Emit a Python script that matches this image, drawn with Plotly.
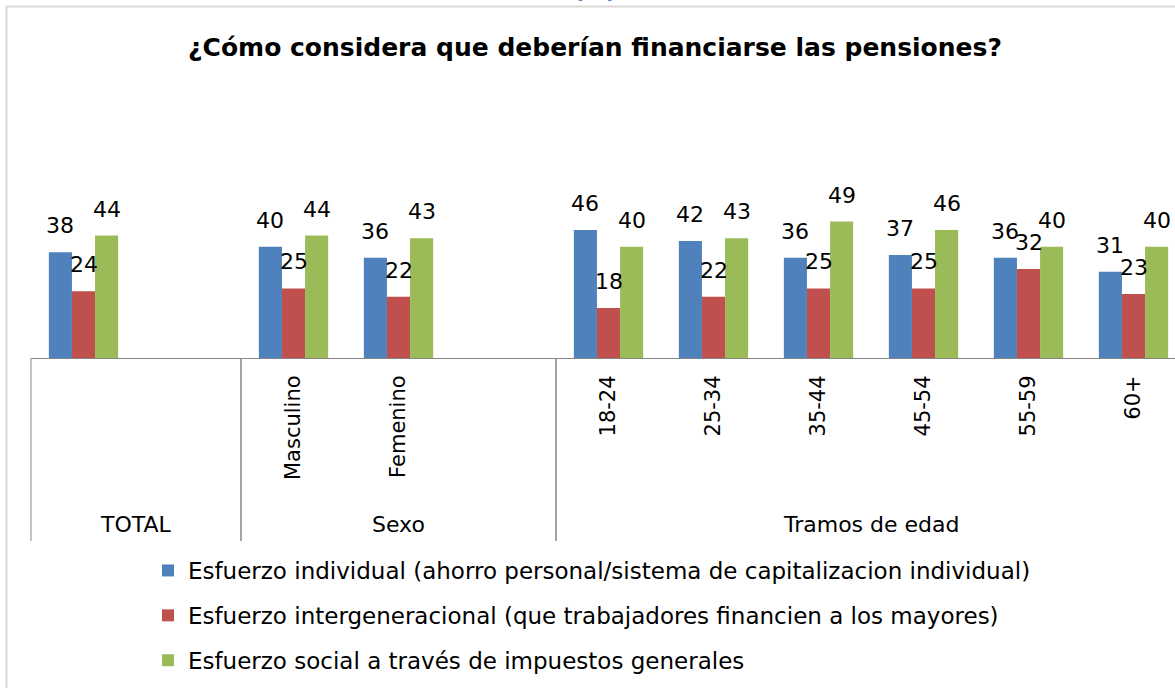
import plotly.graph_objects as go

# --- data -------------------------------------------------------------
categories = ["TOTAL", "Masculino", "Femenino", "18-24", "25-34",
              "35-44", "45-54", "55-59", "60+"]
slot_index = [0, 2, 3, 5, 6, 7, 8, 9, 10]          # position of each category on the axis
tick_labels = ["", "Masculino", "Femenino", "18-24", "25-34",
               "35-44", "45-54", "55-59", "60+"]

groups = ["TOTAL", "Sexo", "Tramos de edad"]
group_bounds = [(-0.5, 1.5), (1.5, 4.5), (4.5, 10.5)]

series_names = [
    "Esfuerzo individual (ahorro personal/sistema de capitalizacion individual)",
    "Esfuerzo intergeneracional (que trabajadores financien a los mayores)",
    "Esfuerzo social a través de impuestos generales",
]
individual = [38, 40, 36, 46, 42, 36, 37, 36, 31]
intergeneracional = [24, 25, 22, 18, 22, 25, 25, 32, 23]
social = [44, 44, 43, 40, 43, 49, 46, 40, 40]

colors = ["#4F81BD", "#C0504D", "#9BBB59"]

# --- layout geometry ----------------------------------------------------
W, H = 1175, 688
M_L, M_R, M_T, M_B = 31, 0, 191, 330
SLOT_PX = 105.0
plot_w = W - M_L - M_R
plot_h = H - M_T - M_B
x_min = -0.5
x_max = x_min + plot_w / SLOT_PX
y_max = 60

BAR_W = 0.22
offsets = [-1.5 * BAR_W, -0.5 * BAR_W, 0.5 * BAR_W]

FONT = "DejaVu Sans"
TXT = "#000000"
AXIS_GREY = "#868686"


def px_to_paper_y(py):
    return (H - M_B - py) / plot_h


def px_to_paper_x(px):
    return (px - M_L) / plot_w


def x_to_paper(xv):
    return (xv - x_min) / (x_max - x_min)


fig = go.Figure()

all_series = [individual, intergeneracional, social]
annotations = []
for i, (name, vals) in enumerate(zip(series_names, all_series)):
    fig.add_trace(go.Bar(
        x=slot_index,
        y=vals,
        name=name,
        width=BAR_W,
        offset=offsets[i],
        marker=dict(color=colors[i], line=dict(width=0)),
        legendgroup=f"g{i}",
        hoverinfo="skip",
    ))
    # value labels above each bar
    for xs, v in zip(slot_index, vals):
        annotations.append(dict(
            x=xs + offsets[i] + BAR_W / 2, y=v, xref="x", yref="y",
            text=str(v), showarrow=False, yanchor="bottom", yshift=12,
            font=dict(family=FONT, size=22, color=TXT),
        ))

# second-level category labels
for g, (a, b) in zip(groups, group_bounds):
    annotations.append(dict(
        x=(a + b) / 2, y=px_to_paper_y(524), xref="x", yref="paper",
        text=g, showarrow=False, yanchor="middle", xanchor="center",
        font=dict(family=FONT, size=22, color=TXT),
    ))

# "(%)" subtitle peeking above the chart frame
annotations.append(dict(
    x=px_to_paper_x(595), y=px_to_paper_y(5), xref="paper", yref="paper",
    text="<b>(%)</b>", showarrow=False, yanchor="bottom", xanchor="center",
    font=dict(family=FONT, size=22, color="#4F81BD"),
))

shapes = []
# separators between category groups
for a, b in group_bounds:
    for xb in (a, b):
        xp = x_to_paper(xb)
        if 0 <= xp <= 1:
            shapes.append(dict(
                type="line", xref="paper", yref="paper",
                x0=xp, x1=xp, y0=0, y1=px_to_paper_y(541),
                line=dict(color=AXIS_GREY, width=1),
            ))
# chart frame
shapes.append(dict(
    type="rect", xref="paper", yref="paper",
    x0=px_to_paper_x(6.5), x1=px_to_paper_x(W + 20),
    y0=px_to_paper_y(H + 20), y1=px_to_paper_y(6.5),
    line=dict(color="#D9D9D9", width=2), layer="below",
))

fig.update_layout(
    width=W, height=H,
    margin=dict(l=M_L, r=M_R, t=M_T, b=M_B, pad=0, autoexpand=False),
    paper_bgcolor="white", plot_bgcolor="white",
    title=dict(
        text="<b>¿Cómo considera que deberían financiarse las pensiones?</b>",
        x=595 / W, xref="container", xanchor="center",
        y=1 - 47 / H, yref="container", yanchor="middle",
        font=dict(family=FONT, size=25, color=TXT),
    ),
    xaxis=dict(
        range=[x_min, x_max],
        tickmode="array", tickvals=slot_index, ticktext=tick_labels,
        tickangle=-90, ticks="", ticklabelstandoff=8,
        tickfont=dict(family=FONT, size=21, color=TXT),
        showline=True, linecolor=AXIS_GREY, linewidth=1,
        showgrid=False, zeroline=False, fixedrange=True,
    ),
    yaxis=dict(
        range=[0, y_max], visible=False, showgrid=False,
        zeroline=False, fixedrange=True,
    ),
    barmode="overlay",
    showlegend=True,
    legend=dict(
        xref="container", yref="container",
        x=148 / W, y=1 - 549 / H, xanchor="left", yanchor="top",
        font=dict(family=FONT, size=23, color=TXT),
        tracegroupgap=12, traceorder="grouped",
        itemwidth=30, bgcolor="rgba(0,0,0,0)",
    ),
    annotations=annotations,
    shapes=shapes,
)

fig.write_html("out.html", config={"displayModeBar": False})
